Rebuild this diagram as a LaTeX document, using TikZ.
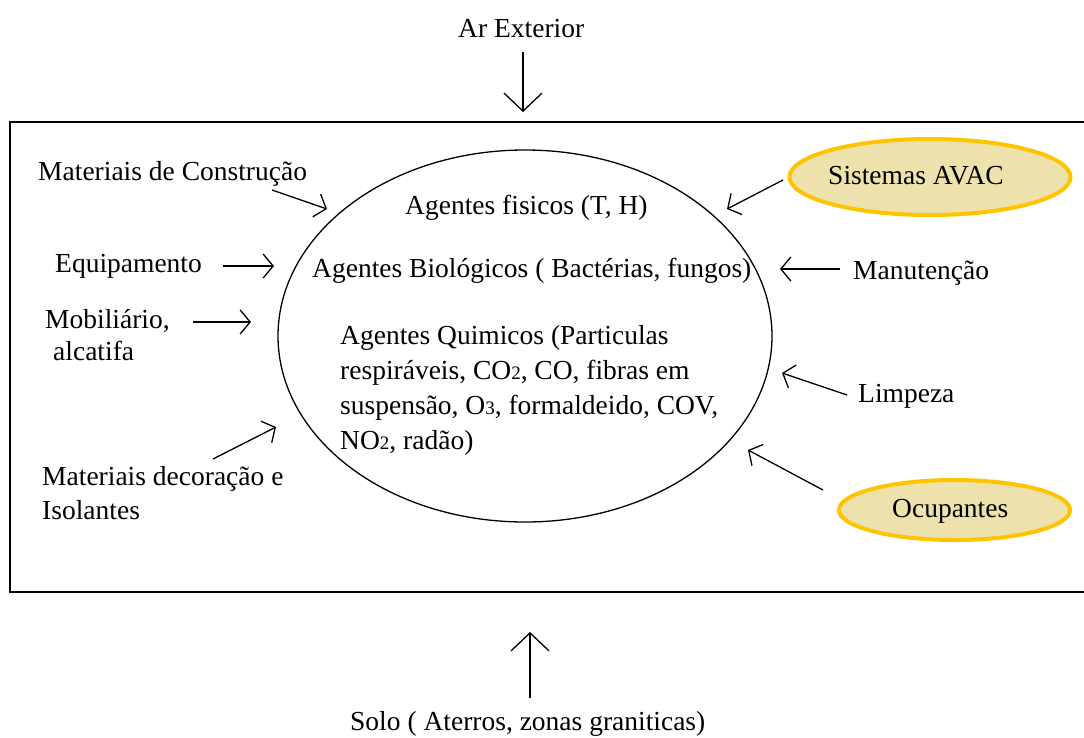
\documentclass[tikz,border=0pt]{standalone}
\usepackage{fontspec}
\setmainfont{Liberation Serif}
\usetikzlibrary{arrows.meta,shapes.geometric}
\definecolor{sourcefill}{RGB}{237,226,172}
\definecolor{sourceline}{RGB}{255,196,0}
\newcommand{\chemsub}[1]{{\fontsize{19}{19}\selectfont #1}}

\begin{document}
\begin{tikzpicture}[x=1pt,y=-1pt,
  txt/.style={anchor=base west, inner sep=0pt, align=left,
    font=\fontsize{27.5}{35}\selectfont},
  smallarrow/.style={line width=1.3pt, -{Straight Barb[length=10pt,width=24pt,line width=1.3pt]}},
  bigarrow/.style={line width=1.3pt, -{Straight Barb[length=18pt,width=38pt,line width=1.3pt]}},
  source/.style={ellipse, draw=sourceline, fill=sourcefill, line width=4pt, inner sep=0pt}]
\useasboundingbox (0,0) rectangle (1084,737);

% building envelope
\draw[line width=2pt] (10,122) rectangle (1100,592);

% indoor air: the pollutant groups
\node[ellipse, draw, line width=1.3pt, minimum width=494pt, minimum height=372pt] (air) at (525,336) {};
\node[txt] (fis) at (405,214) {Agentes fisicos (T, H)};
\node[txt] (bio) at (312,277) {Agentes Biológicos ( Bactérias, fungos)};
% multi-line nodes: the base anchor sits on the last line
\node[txt] (qui) at (340,449) {Agentes Quimicos (Particulas\\
  respiráveis, CO\chemsub{2}, CO, fibras em\\
  suspensão, O\chemsub{3}, formaldeido, COV,\\
  NO\chemsub{2}, radão)};

% outside sources
\node[txt] (ar) at (458,37) {Ar Exterior};
\node[txt] (solo) at (350,730) {Solo ( Aterros, zonas graniticas)};

% sources inside the building, left side
\node[txt] (constr) at (38,180) {Materiais de Construção};
\node[txt] (equip) at (55,272) {Equipamento};
\node[txt, font=\fontsize{27.5}{32}\selectfont] (mob) at (45,360) {Mobiliário,\\\hspace*{8pt}alcatifa};
\node[txt, font=\fontsize{27.5}{34}\selectfont] (decor) at (42,519) {Materiais decoração e\\Isolantes};

% sources inside the building, right side
\node[source, minimum width=281pt, minimum height=76pt] (avac) at (930,177) {};
\node[txt] at (828,184) {Sistemas AVAC};
\node[txt] (manut) at (853,279) {Manutenção};
\node[txt] (limp) at (858,402) {Limpeza};
\node[source, minimum width=231pt, minimum height=60pt] (ocup) at (954.5,510) {};
\node[txt] at (892,517) {Ocupantes};

% arrow end points
\coordinate (arA) at (523,52);   \coordinate (arB) at (523,112);
\coordinate (soloA) at (530,698); \coordinate (soloB) at (530,632);
\coordinate (constrA) at (272,190); \coordinate (constrB) at (327,209);
\coordinate (equipA) at (223,266); \coordinate (equipB) at (274,266);
\coordinate (mobA) at (193,322); \coordinate (mobB) at (251,322);
\coordinate (decorA) at (213,459); \coordinate (decorB) at (276,427);
\coordinate (avacA) at (783,180); \coordinate (avacB) at (727,209);
\coordinate (manutA) at (840,269); \coordinate (manutB) at (780,269);
\coordinate (limpA) at (847,395); \coordinate (limpB) at (782,373);
\coordinate (ocupA) at (823,490); \coordinate (ocupB) at (748,450);

\draw[bigarrow] (arA) -- (arB);
\draw[bigarrow] (soloA) -- (soloB);
\draw[smallarrow] (constrA) -- (constrB);
\draw[smallarrow] (equipA) -- (equipB);
\draw[smallarrow] (mobA) -- (mobB);
\draw[smallarrow] (decorA) -- (decorB);
\draw[smallarrow] (avacA) -- (avacB);
\draw[smallarrow] (manutA) -- (manutB);
\draw[smallarrow] (limpA) -- (limpB);
\draw[smallarrow] (ocupA) -- (ocupB);
\end{tikzpicture}
\end{document}
